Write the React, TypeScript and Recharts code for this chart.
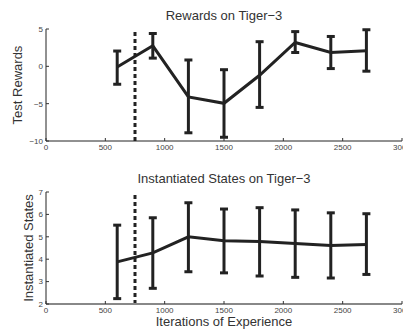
import React from "react";
import { LineChart, Line, XAxis, YAxis, ErrorBar, ReferenceLine } from "recharts";

const iterations = [600, 900, 1200, 1500, 1800, 2100, 2400, 2700];
const rewardMean = [-0.1, 2.75, -4.1, -4.95, -1.2, 3.2, 1.85, 2.1];
const rewardLow = [-2.4, 1.1, -8.9, -9.5, -5.5, 1.85, -0.3, -0.65];
const rewardHigh = [2.05, 4.4, 0.85, -0.45, 3.3, 4.65, 4.0, 4.9];
const statesMean = [3.88, 4.28, 5.0, 4.82, 4.79, 4.7, 4.61, 4.66];
const statesLow = [2.24, 2.7, 3.44, 3.39, 3.25, 3.19, 3.16, 3.32];
const statesHigh = [5.52, 5.85, 6.52, 6.24, 6.3, 6.2, 6.07, 6.03];
const xTicks = [0, 500, 1000, 1500, 2000, 2500, 3000];
const rewardTicks = [-10, -5, 0, 5];
const stateTicks = [2, 3, 4, 5, 6, 7];
const switchPoint = 750;

const rewardData = iterations.map((x, i) => ({
  x,
  y: rewardMean[i],
  err: [rewardMean[i] - rewardLow[i], rewardHigh[i] - rewardMean[i]],
}));
const stateData = iterations.map((x, i) => ({
  x,
  y: statesMean[i],
  err: [statesMean[i] - statesLow[i], statesHigh[i] - statesMean[i]],
}));

const FONT = "Liberation Sans, Arial, sans-serif";
const fmt = (v: number) => String(v).replace("-", "\u2212");
const tickStyle = { fontSize: 8, fill: "#444", fontFamily: FONT };

function Panel(props: {
  data: any[];
  domain: [number, number];
  yTicks: number[];
  xAxisColor: string;
  xAxisWidth: number;
}) {
  return (
    <LineChart
      width={403}
      height={160}
      data={props.data}
      margin={{ top: 29, right: 1, bottom: 0, left: 0 }}
    >
      <XAxis
        dataKey="x"
        type="number"
        domain={[0, 3000]}
        ticks={xTicks}
        height={19}
        tickSize={-3}
        tickMargin={6}
        tick={tickStyle}
        axisLine={{ stroke: props.xAxisColor, strokeWidth: props.xAxisWidth }}
        tickLine={{ stroke: "#333" }}
        interval={0}
      />
      <YAxis
        type="number"
        domain={props.domain}
        ticks={props.yTicks}
        width={46}
        tickSize={-3}
        tickMargin={6}
        tick={tickStyle}
        tickFormatter={fmt}
        axisLine={{ stroke: "#222" }}
        tickLine={{ stroke: "#333" }}
        interval={0}
      />
      <ReferenceLine
        x={switchPoint}
        stroke="#222"
        strokeWidth={3}
        strokeDasharray="4 3"
      />
      <Line
        dataKey="y"
        stroke="#222"
        strokeWidth={3}
        dot={false}
        isAnimationActive={false}
      >
        <ErrorBar dataKey="err" width={4} stroke="#222" strokeWidth={3} direction="y" />
      </Line>
    </LineChart>
  );
}

export default function App() {
  return (
    <div
      style={{
        position: "absolute",
        left: 0,
        top: 0,
        width: 403,
        height: 329,
        background: "#fff",
        fontFamily: FONT,
        overflow: "hidden",
      }}
    >
      <div style={{ position: "absolute", left: 0, top: 0 }}>
        <Panel data={rewardData} domain={[-10, 5]} yTicks={rewardTicks} xAxisColor="#222" xAxisWidth={1} />
      </div>
      <div style={{ position: "absolute", left: 0, top: 162.7 }}>
        <Panel data={stateData} domain={[2, 7]} yTicks={stateTicks} xAxisColor="#888" xAxisWidth={2} />
      </div>
      <div style={{ position: "absolute", left: 46, width: 356, top: 8, textAlign: "center", fontSize: 13, color: "#333", lineHeight: "16px" }}>
        Rewards on Tiger−3
      </div>
      <div style={{ position: "absolute", left: 46, width: 356, top: 171, textAlign: "center", fontSize: 13, color: "#333", lineHeight: "16px" }}>
        Instantiated States on Tiger−3
      </div>
      <div style={{ position: "absolute", left: 46, width: 356, top: 314, textAlign: "center", fontSize: 13, color: "#333", lineHeight: "16px" }}>
        Iterations of Experience
      </div>
      <div style={{ position: "absolute", left: 18, top: 85, transform: "translate(-50%, -50%) rotate(-90deg)", whiteSpace: "nowrap", fontSize: 13, color: "#333", lineHeight: "16px" }}>
        Test Rewards
      </div>
      <div style={{ position: "absolute", left: 29, top: 248, transform: "translate(-50%, -50%) rotate(-90deg)", whiteSpace: "nowrap", fontSize: 13, color: "#333", lineHeight: "16px" }}>
        Instantiated States
      </div>
    </div>
  );
}
